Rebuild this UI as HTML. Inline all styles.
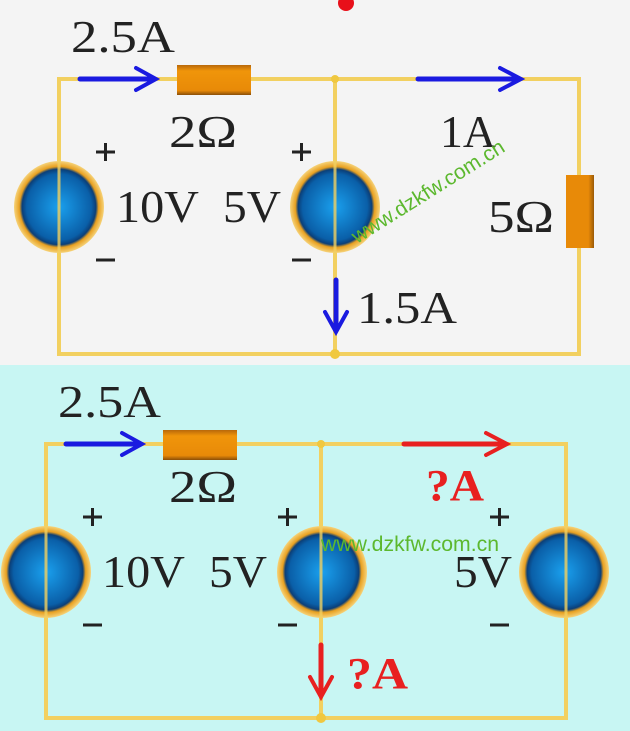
<!DOCTYPE html>
<html><head><meta charset="utf-8"><style>
html,body{margin:0;padding:0;background:#f4f4f4}
svg{display:block}
text{font-family:"Liberation Serif",serif;fill:#222}
.w{font-family:"Liberation Sans",sans-serif;fill:#5cb82e}
</style></head><body>
<svg width="630" height="731" viewBox="0 0 630 731" xmlns="http://www.w3.org/2000/svg">
<defs>
<radialGradient id="src" cx="50%" cy="50%" r="50%">
<stop offset="0" stop-color="#1aa0ee"/><stop offset="0.72" stop-color="#0a5fa8"/><stop offset="0.82" stop-color="#0b3f78"/><stop offset="0.88" stop-color="#e8a020"/><stop offset="1" stop-color="#f6d37a"/>
</radialGradient>
<linearGradient id="res" x1="0" y1="0" x2="0" y2="1"><stop offset="0" stop-color="#b8680a"/><stop offset="0.2" stop-color="#f0950a"/><stop offset="0.85" stop-color="#e88a08"/><stop offset="1" stop-color="#8a4e08"/></linearGradient>
<linearGradient id="resv" x1="0" y1="0" x2="1" y2="0"><stop offset="0" stop-color="#e88a08"/><stop offset="0.8" stop-color="#e88a08"/><stop offset="1" stop-color="#9a5a08"/></linearGradient>
</defs>
<rect x="0" y="0" width="630" height="365" fill="#f4f4f4"/>
<rect x="0" y="365" width="630" height="366" fill="#c8f6f3"/>
<circle cx="346" cy="3" r="8" fill="#e8101a"/>
<g stroke="#f2d060" stroke-width="4" fill="none">
<rect x="59" y="79" width="520" height="275"/>
<line x1="335" y1="79" x2="335" y2="354"/>
</g>
<circle cx="335" cy="79" r="4" fill="#f0c840"/><circle cx="335" cy="354" r="5" fill="#f0c840"/>
<rect x="177" y="65" width="74" height="30" fill="url(#res)"/>
<rect x="566" y="175" width="28" height="73" fill="url(#resv)"/>
<ellipse cx="59" cy="207" rx="45" ry="46" fill="url(#src)"/>
<ellipse cx="335" cy="207" rx="45" ry="46" fill="url(#src)"/>
<line x1="59" y1="160" x2="59" y2="254" stroke="#f2d060" stroke-width="3" opacity="0.8"/>
<line x1="335" y1="160" x2="335" y2="254" stroke="#f2d060" stroke-width="3" opacity="0.8"/>
<g stroke="#1a1ae0" stroke-width="5" fill="none" stroke-linecap="round">
<line x1="80" y1="79" x2="154" y2="79"/><polyline points="136,68 156,79 136,90" stroke-width="4"/>
<line x1="418" y1="79" x2="519" y2="79"/><polyline points="500,68 521,79 500,90" stroke-width="4"/>
<line x1="336" y1="280" x2="336" y2="330"/><polyline points="325,312 336,332 347,312" stroke-width="4"/>
</g>
<g font-size="46">
<text x="71" y="52" textLength="104" lengthAdjust="spacingAndGlyphs">2.5A</text>
<text x="169" y="147" textLength="68" lengthAdjust="spacingAndGlyphs">2Ω</text>
<text x="440" y="147" textLength="56" lengthAdjust="spacingAndGlyphs">1A</text>
<text x="116" y="222" textLength="83" lengthAdjust="spacingAndGlyphs">10V</text>
<text x="223" y="222" textLength="58" lengthAdjust="spacingAndGlyphs">5V</text>
<text x="488" y="232" textLength="66" lengthAdjust="spacingAndGlyphs">5Ω</text>
<text x="357" y="323" textLength="100" lengthAdjust="spacingAndGlyphs">1.5A</text>
</g>
<g stroke="#222" stroke-width="3">
<line x1="96" y1="152" x2="115" y2="152"/><line x1="105.5" y1="143" x2="105.5" y2="161"/>
<line x1="96" y1="260" x2="115" y2="260"/>
<line x1="292" y1="152" x2="311" y2="152"/><line x1="301.5" y1="143" x2="301.5" y2="161"/>
<line x1="292" y1="260" x2="311" y2="260"/>
</g>
<text class="w" font-size="21" transform="translate(357,244) rotate(-32)" textLength="176" lengthAdjust="spacingAndGlyphs">www.dzkfw.com.cn</text>
<g stroke="#f2d060" stroke-width="4" fill="none">
<rect x="46" y="444" width="520" height="274"/>
<line x1="321" y1="444" x2="321" y2="718"/>
</g>
<circle cx="321" cy="444" r="4" fill="#f0c840"/><circle cx="321" cy="718" r="5" fill="#f0c840"/>
<rect x="163" y="430" width="74" height="30" fill="url(#res)"/>
<ellipse cx="46" cy="572" rx="45" ry="46" fill="url(#src)"/>
<ellipse cx="322" cy="572" rx="45" ry="46" fill="url(#src)"/>
<ellipse cx="564" cy="572" rx="45" ry="46" fill="url(#src)"/>
<line x1="46" y1="525" x2="46" y2="619" stroke="#f2d060" stroke-width="3" opacity="0.8"/>
<line x1="321" y1="525" x2="321" y2="619" stroke="#f2d060" stroke-width="3" opacity="0.8"/>
<line x1="566" y1="525" x2="566" y2="619" stroke="#f2d060" stroke-width="3" opacity="0.8"/>
<g stroke-width="5" fill="none" stroke-linecap="round">
<line x1="66" y1="444" x2="140" y2="444" stroke="#1a1ae0"/><polyline points="122,433 142,444 122,455" stroke="#1a1ae0" stroke-width="4"/>
<line x1="404" y1="444" x2="505" y2="444" stroke="#e82020"/><polyline points="486,433 507,444 486,455" stroke="#e82020" stroke-width="4"/>
<line x1="321" y1="645" x2="321" y2="695" stroke="#e82020"/><polyline points="310,677 321,697 332,677" stroke="#e82020" stroke-width="4"/>
</g>
<g font-size="46">
<text x="58" y="417" textLength="103" lengthAdjust="spacingAndGlyphs">2.5A</text>
<text x="169" y="502" textLength="68" lengthAdjust="spacingAndGlyphs">2Ω</text>
<text x="102" y="587" textLength="83" lengthAdjust="spacingAndGlyphs">10V</text>
<text x="209" y="587" textLength="58" lengthAdjust="spacingAndGlyphs">5V</text>
<text x="454" y="587" textLength="58" lengthAdjust="spacingAndGlyphs">5V</text>
</g>
<g font-size="44" font-weight="bold">
<text x="426" y="500" textLength="58" lengthAdjust="spacingAndGlyphs" style="fill:#e82020">?A</text>
<text x="347" y="688" textLength="61" lengthAdjust="spacingAndGlyphs" style="fill:#e82020">?A</text>
</g>
<g stroke="#222" stroke-width="3">
<line x1="83" y1="517" x2="102" y2="517"/><line x1="92.5" y1="508" x2="92.5" y2="526"/>
<line x1="83" y1="625" x2="102" y2="625"/>
<line x1="278" y1="517" x2="297" y2="517"/><line x1="287.5" y1="508" x2="287.5" y2="526"/>
<line x1="278" y1="625" x2="297" y2="625"/>
<line x1="490" y1="517" x2="509" y2="517"/><line x1="499.5" y1="508" x2="499.5" y2="526"/>
<line x1="490" y1="625" x2="509" y2="625"/>
</g>
<text class="w" x="321" y="551" font-size="21" textLength="178" lengthAdjust="spacingAndGlyphs">www.dzkfw.com.cn</text>
</svg>
</body></html>
